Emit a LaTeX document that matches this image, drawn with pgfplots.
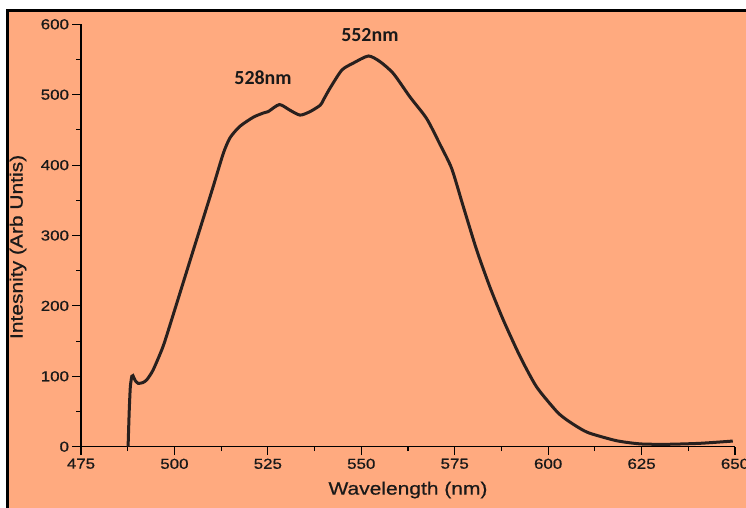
\documentclass[border=0pt]{standalone}
\usepackage{pgfplots}
\pgfplotsset{compat=1.18}
\usepackage{fontspec}
\setmainfont{Liberation Sans}[FakeStretch=1.17, FakeBold=0.6]
\newfontfamily\annfont{Carlito}
\definecolor{bgc}{RGB}{255,170,127}
\definecolor{curvec}{RGB}{40,32,30}
\pgfplotstableread{
x y
487.6 0
487.9 50
488.2 85
488.6 100
488.9 101
489.5 94
490.3 90
491.5 91
492.6 95
494.3 109
497.0 143
499.7 188
502.4 234
505.1 280
507.7 324
510.4 370
513.1 417
514.9 439
517.5 455
521.1 468
523.8 474
525.1 476
528.1 486
530.9 478
533.6 471
536.3 476
539.0 485
539.8 492
541.6 509
544.8 535
547.9 545
551.9 555
555.0 547
558.6 530
563.0 497
567.5 466
571.1 429
574.2 395
577.3 341
580.9 279
584.4 227
588.0 180
592.5 128
596.9 85
602.3 50
605.0 38
608.5 26
611.2 19
618.3 8.5
624.6 4
631.7 3.4
640.6 4.8
649.4 8
}\spectrum
\begin{document}
\begin{tikzpicture}
\path[use as bounding box] (-81bp,-61.3bp) rectangle (665bp,446.7bp);
\fill[bgc] (-73.5bp,-70bp) rectangle (675bp,436.2bp);
\draw[line width=3bp] (-73.5bp,-70bp) -- (-73.5bp,436.2bp) -- (675bp,436.2bp);
\begin{axis}[
  width=654bp, height=422.4bp, scale only axis,
  xmin=475, xmax=650, ymin=0, ymax=600,
  axis x line*=bottom, axis y line*=left,
  xtick={475,500,...,650}, ytick={0,100,...,600},
  minor tick num=1,
  tick align=outside,
  major tick length=8.5bp, minor tick length=4.5bp,
  every tick/.style={black, line width=1.1bp},
  axis line style={black, line width=1.4bp},
  /pgf/number format/assume math mode=true,
  tick label style={font=\fontsize{14.5}{16}\selectfont, text=black!90},
  xlabel={Wavelength (nm)},
  ylabel={Intesnity (Arb Untis)},
  label style={font=\fontsize{18}{20}\selectfont, text=black!90},
  xlabel style={at={(axis description cs:0.5,-0.1025)}, anchor=center},
  ylabel style={at={(axis description cs:-0.0963,0.473)}, anchor=center},
]
\addplot[curvec, line width=3bp, smooth, tension=0.4] table[x=x,y=y] {\spectrum};
\node[font=\annfont\bfseries\fontsize{20}{22}\selectfont, text=black!90] at (axis cs:523.7,524) {528nm};
\node[font=\annfont\bfseries\fontsize{20}{22}\selectfont, text=black!90] at (axis cs:552.3,584.8) {552nm};
\end{axis}
\end{tikzpicture}
\end{document}
